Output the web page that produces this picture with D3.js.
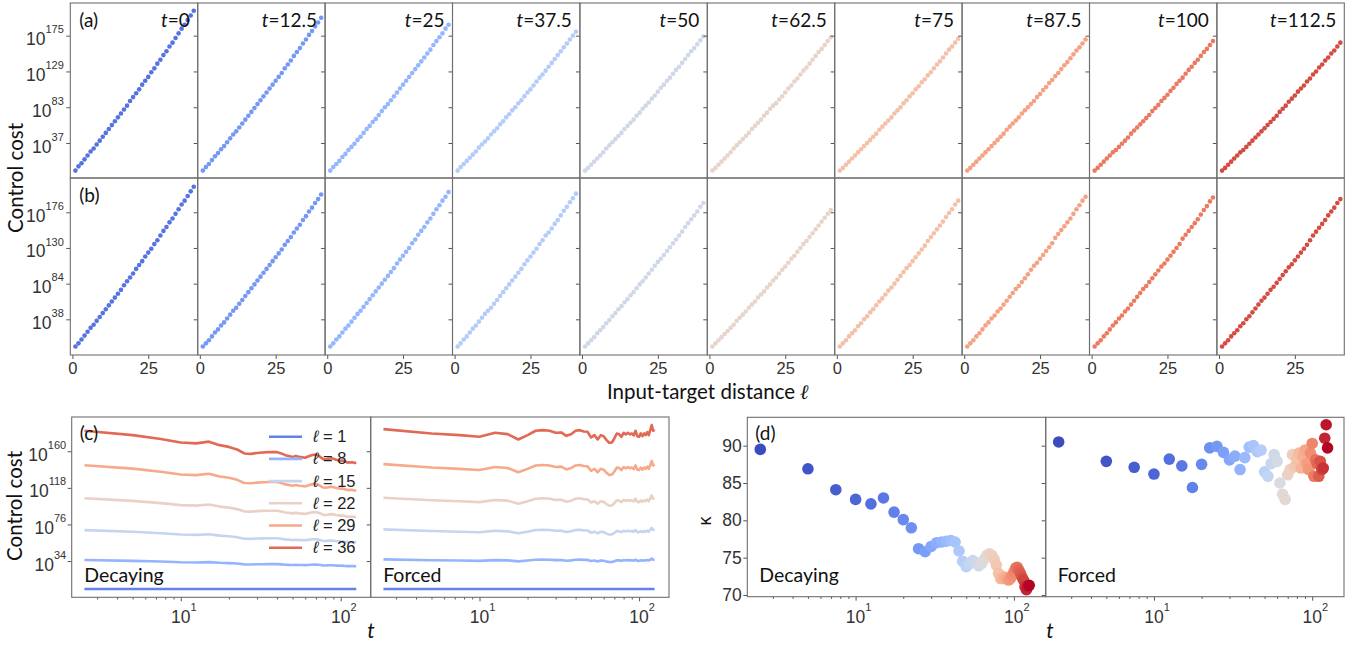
<!DOCTYPE html>
<html>
<head>
<meta charset="utf-8">
<script src="https://cdn.jsdelivr.net/npm/d3@7"></script>
<style>
  body { margin: 0; background: #fff; }
  svg { display: block; }
  .sans { font-family: "Liberation Sans", Arial, sans-serif; }
  .cal { font-family: Lato, "Open Sans", sans-serif; }
</style>
</head>
<body>
<svg id="fig" width="1364" height="646"></svg>
<script>

// ---- top grid: cost vs input-target distance at snapshot times ----
var distances = [1,2,3,4,5,6,7,8,9,10,11,12,13,14,15,16,17,18,19,20,21,22,23,24,25,26,27,28,29,30,31,32,33,34,35,36,37,38,39,40];
var snapLabels = ['0','12.5','25','37.5','50','62.5','75','87.5','100','112.5'];
var rowATicks = [37, 83, 129, 175];
var rowBTicks = [38, 84, 130, 176];
var distTicks = [0, 25];

// log10 of control cost, one list per snapshot (row a, decaying)
var decayingCost = [
  [1.5,7,11,16,21,26,30,35,40,45,50,55,60,65,70,75,80,85,91,96,101,106,112,117,122,128,133,139,144,150,155,161,166,172,178,184,189,195,201,207],
  [1.5,6,10,15,20,24,29,33,38,43,48,52,57,62,67,72,77,82,87,92,97,102,107,112,117,122,127,133,138,143,149,154,159,165,170,176,181,187,192,198],
  [1.5,6,10,14,19,23,28,32,36,41,45,50,55,59,64,68,73,78,83,87,92,97,102,107,112,117,122,127,132,137,142,147,152,157,163,168,173,178,184,189],
  [1.5,6,10,14,18,22,26,31,35,39,43,48,52,56,61,65,70,74,79,83,88,92,97,102,106,111,116,121,125,130,135,140,145,150,155,160,165,170,175,180],
  [1.5,5,9,13,17,21,25,30,34,38,42,46,50,55,59,63,67,72,76,81,85,89,94,98,103,108,112,117,121,126,131,135,140,145,150,155,159,164,169,174],
  [1.5,5,9,13,17,21,25,30,34,38,42,46,50,55,59,63,67,72,76,81,85,88,93,97,102,107,111,116,120,125,130,134,139,144,149,154,158,163,168,173],
  [1.5,5,9,13,17,21,25,29,33,37,41,45,49,54,58,62,66,70,75,79,83,88,92,97,101,106,110,115,119,124,128,133,138,142,147,152,157,161,166,171],
  [1.5,5,9,13,17,21,25,29,33,37,41,45,49,54,58,62,66,70,75,79,83,87,91,96,100,105,109,114,118,123,127,132,137,141,146,151,156,160,165,170],
  [1.5,5,9,13,17,21,25,28,32,36,40,44,49,53,57,61,65,69,73,78,82,86,91,95,99,104,108,113,117,121,126,131,135,140,144,149,154,158,163,168],
  [1.5,5,9,13,17,21,25,28,32,36,40,44,48,52,56,60,64,68,72,77,81,85,90,94,98,103,107,111,116,120,125,129,134,138,143,147,152,156,161,166]
];

// log10 of control cost, one list per snapshot (row b, forced)
var forcedCost = [
  [3,7,12,17,22,27,31,36,41,46,51,56,61,66,71,76,82,87,92,97,103,108,113,119,124,129,135,140,146,152,157,163,168,174,180,186,191,197,203,209],
  [3,7,11,16,21,25,30,34,39,44,49,53,58,63,68,73,78,83,88,93,98,103,108,113,118,123,128,134,139,144,150,155,160,166,171,177,182,188,193,199],
  [3,7,12,16,21,26,30,35,40,45,49,54,59,64,69,74,79,84,89,94,99,104,110,115,120,125,130,136,141,147,152,157,163,168,174,180,185,191,196,202],
  [3,7,12,16,21,26,30,35,40,45,49,53,58,63,68,73,78,83,88,93,98,103,109,114,119,124,129,135,140,146,150,155,161,166,172,178,183,189,194,200],
  [3,7,11,15,20,24,28,33,37,42,46,51,55,60,64,69,73,78,83,87,92,97,102,107,112,116,121,126,131,136,141,146,151,157,162,167,172,177,183,188],
  [3,7,11,15,19,23,27,31,36,40,44,48,53,57,61,66,70,74,79,83,88,92,97,102,106,111,116,120,125,130,135,139,144,149,154,159,164,169,174,179],
  [3,7,11,16,20,24,29,33,38,42,47,51,56,61,65,70,75,79,84,89,94,99,104,108,113,118,123,128,133,139,144,149,154,159,164,170,175,180,186,191],
  [3,7,11,16,20,25,30,34,39,43,48,52,57,62,67,72,77,81,86,91,96,102,107,111,116,121,126,131,136,143,148,153,158,163,168,174,180,185,191,196],
  [3,7,11,16,20,25,30,34,39,43,48,52,57,62,67,72,77,81,86,91,96,101,106,110,115,120,125,130,135,142,147,152,157,162,167,173,179,184,190,195],
  [3,7,11,16,20,24,29,33,38,42,47,52,57,62,66,71,76,80,85,90,95,100,105,109,114,119,124,129,134,140,146,151,156,161,166,172,177,182,188,193]
];

// ---- panel c: cost over time for a few distances ----
var times = [2.5,5,7.5,10,12.5,15,17.5,20,22.5,25,27.5,30,32.5,35,37.5,40,42.5,45,47.5,50,
             52.5,55,57.5,60,62.5,65,67.5,70,72.5,75,77.5,80,82.5,85,87.5,90,92.5,95,97.5,100,
             102.5,105,107.5,110,112.5,115,117.5,120,122.5,125];
var lineDistances = [1, 8, 15, 22, 29, 36];
var costTicks = [34, 76, 118, 160];

var decayingLines = [
  [2,2,2,2,2,2,2,2,2,2,2,2,2,2,2,2,2,2,2,2,2,2,2,2,2,2,2,2,2,2,2,2,2,2,2,2,2,2,2,2,2,2,2,2,2,2,2,2,2,2],
  [35.2,34.2,33.4,32.6,32.4,32.8,32.0,31.6,31.1,30.2,30.1,30.3,30.4,30.5,30.5,30.5,30.2,29.8,29.6,29.5,29.6,29.5,29.4,29.3,29.5,29.7,29.9,29.9,29.7,29.4,29.0,28.9,29.0,29.1,29.1,29.1,28.9,28.8,28.7,28.6,28.7,28.5,28.4,28.2,28.3,28.2,28.3,28.2,28.1,28.2],
  [69.5,67.6,65.9,64.4,64.0,64.8,63.2,62.5,61.4,59.6,59.5,59.8,60.0,60.2,60.2,60.2,59.6,58.9,58.5,58.2,58.5,58.2,58.0,57.8,58.3,58.7,59.1,59.1,58.7,58.0,57.2,57.0,57.2,57.4,57.5,57.4,57.0,56.8,56.6,56.4,56.6,56.2,56.1,55.7,55.9,55.7,55.9,55.7,55.5,55.7],
  [106,103.1,100.5,98.2,97.6,98.8,96.5,95.3,93.6,90.9,90.7,91.3,91.6,91.8,91.8,91.8,90.9,89.8,89.3,88.7,89.3,88.7,88.4,88.1,88.9,89.6,90.1,90.1,89.6,88.4,87.2,86.9,87.2,87.6,87.8,87.6,86.9,86.6,86.4,86.1,86.4,85.8,85.5,84.9,85.2,84.9,85.2,84.9,84.6,84.9],
  [144,140.1,136.5,133.3,132.6,134.2,131,129.5,127.2,123.6,123.3,124,124.4,124.7,124.7,124.7,123.6,122,121.2,120.5,121.2,120.5,120.1,119.7,120.8,121.7,122.4,122.4,121.7,120.1,118.5,118.1,118.5,118.9,119.2,118.9,118.1,117.6,117.4,116.9,117.4,116.5,116.2,115.3,115.8,115.3,115.8,115.3,114.9,115.3],
  [183.5,178.5,174,170,169,171,167,165,162,157.5,157,158,158.5,159,159,159,157.5,155.5,154.5,153.5,154.5,153.5,153,152.5,154,155,156,156,155,153,151,150.5,151,151.5,152,151.5,150.5,150,149.5,149,149.5,148.5,148,147,147.5,147,147.5,147,146.5,147]
];

var forcedLines = [
  [1.9,1.9,1.9,1.9,1.9,1.9,1.9,1.9,1.9,1.9,1.9,1.9,1.9,1.9,1.9,1.9,1.9,1.9,1.9,1.9,1.9,1.9,1.9,1.9,1.9,1.9,1.9,1.9,1.9,1.9,1.9,1.9,1.9,1.9,1.9,1.9,1.9,1.9,1.9,1.9,1.9,1.9,1.9,1.9,1.9,1.9,1.9,1.9,1.9,1.9],
  [35.9,34.9,34.6,34.2,35.1,34.8,33.6,34.6,35.5,35.7,35.5,35.1,35.2,34.4,34.8,35.5,35.7,35.4,35.3,34.0,34.6,33.6,34.6,34.3,33.5,32.8,32.9,33.8,34.9,34.8,34.2,35.1,34.7,35.1,34.8,34.9,34.5,35.5,34.3,34.2,34.9,34.3,34.9,34.6,35.2,34.6,35.7,36.8,35.5,35.8],
  [70.3,68.4,67.7,67.0,68.7,68.1,65.8,67.7,69.6,69.9,69.6,68.7,68.9,67.3,68.1,69.6,69.9,69.2,69.1,66.6,67.7,65.8,67.7,67.2,65.5,64.3,64.5,66.2,68.4,68.1,67.0,68.7,68.0,68.7,68.1,68.4,67.6,69.6,67.2,67.0,68.4,67.2,68.4,67.7,69.0,67.7,69.9,72.1,69.6,70.2],
  [106.6,103.7,102.7,101.6,104.1,103.3,99.8,102.7,105.5,106.0,105.5,104.1,104.5,102.1,103.3,105.5,106.0,105.0,104.8,101.1,102.7,99.8,102.7,101.9,99.4,97.5,97.8,100.4,103.7,103.3,101.6,104.1,103.1,104.1,103.2,103.7,102.4,105.5,101.9,101.6,103.7,101.9,103.7,102.7,104.6,102.7,106.0,109.3,105.5,106.4],
  [145.2,141.3,139.8,138.4,141.9,140.7,135.9,139.8,143.7,144.3,143.7,141.9,142.3,139.1,140.7,143.7,144.3,143.0,142.7,137.6,139.8,135.9,139.8,138.8,135.3,132.9,133.1,136.8,141.3,140.7,138.4,141.9,140.4,141.9,140.6,141.3,139.5,143.7,138.8,138.4,141.3,138.8,141.3,139.8,142.4,139.8,144.3,148.8,143.7,144.9],
  [185.4,180.4,178.5,176.6,181.2,179.6,173.5,178.5,183.5,184.2,183.5,181.2,181.6,177.7,179.6,183.5,184.2,182.7,182.3,175.8,178.5,173.5,178.5,177.3,172.8,169.7,170.1,174.7,180.4,179.6,176.6,181.2,179.2,181.2,179.4,180.4,178.1,183.5,177.3,176.6,180.4,177.3,180.4,178.5,181.9,178.5,184.2,190,183.5,185]
];

// ---- panel d: kappa over time ----
var kappaTicks = [70, 75, 80, 85, 90];
var kappaDecaying = [89.5,86.9,84.1,82.8,82.2,83.0,81.1,80.1,79.0,76.2,75.8,76.5,77.0,77.1,77.2,77.3,77.1,75.9,74.5,73.8,
                     74.2,74.6,74.3,73.9,74.2,74.8,75.3,75.5,75.3,74.8,74.0,72.9,72.2,72.2,72.4,72.2,72.0,72.2,72.6,73.1,
                     73.6,73.7,73.3,72.9,72.4,72.0,71.1,70.7,71.2,71.3];
var kappaForced = [90.5,87.9,87.1,86.2,88.2,87.3,84.4,87.5,89.7,89.9,89.1,88.1,88.6,86.8,88.4,89.8,90.0,89.2,89.4,86.5,
                   85.9,87.6,88.8,87.9,85.0,83.5,82.8,86.1,86.8,88.8,87.2,88.1,89.0,87.0,88.5,89.4,87.6,86.8,89.0,90.3,
                   85.9,88.1,87.6,85.9,87.9,86.8,87.0,91.0,92.8,89.7];
var logMajor = [10, 100];
var logMinor = [3,4,5,6,7,8,9,20,30,40,50,60,70,80,90];

var svg = d3.select('#fig');

var coolwarm = d3.scaleLinear()
  .domain([0, 0.1, 0.2, 0.3, 0.4, 0.5, 0.6, 0.7, 0.8, 0.9, 1])
  .range(['#3b4cc0','#5977e3','#7b9ff9','#9ebeff','#c0d4f5','#dddcdc','#f2cbb7','#f7ac8e','#ee8468','#d65244','#b40426'])
  .interpolate(d3.interpolateRgb);

var frameCol = '#6f6f6f', tickCol = '#555', labCol = '#333';

// "10" with a raised exponent
function powLabel(text, exp, size) {
  text.append('tspan').text('10');
  text.append('tspan').attr('dy', -0.68 * size).style('font-size', Math.round(size * 0.63) + 'px').text(exp);
}

function yPowLabels(g, scale, ticks, xRight) {
  ticks.forEach(function(v){
    var t = g.append('text').attr('class', 'sans')
      .attr('x', xRight).attr('y', scale(v) + 9.5)
      .attr('text-anchor', 'end').attr('fill', labCol).style('font-size', '17.5px');
    powLabel(t, v, 17.5);
  });
}

function styleAxis(a) {
  a.select('.domain').remove();
  a.selectAll('line').attr('stroke', tickCol);
}

// ================= panels (a) and (b) =================
var gridLeft = 70.3, colW = 127.4;
var gridRows = [
  { cost: decayingCost, top: 3, bottom: 178, dom: [-8, 217], ticks: rowATicks, tag: '(a)', tagY: 27 },
  { cost: forcedCost, top: 178, bottom: 355, dom: [-8, 220.2], ticks: rowBTicks, tag: '(b)', tagY: 202 }
];

gridRows.forEach(function(row, r){
  var y = d3.scaleLinear().domain(row.dom).range([row.bottom, row.top]);
  snapLabels.forEach(function(lab, i){
    var left = gridLeft + i * colW;
    var x = d3.scaleLinear().domain([-0.7, 41.3]).range([left, left + colW]);
    var g = svg.append('g');

    var ya = g.append('g').attr('transform', 'translate(' + left + ',0)')
      .call(d3.axisLeft(y).tickValues(row.ticks).tickSize(4).tickFormat(''));
    styleAxis(ya);

    if (r == 1) {
      var xa = g.append('g').attr('transform', 'translate(0,' + row.bottom + ')')
        .call(d3.axisBottom(x).tickValues(distTicks).tickSize(4).tickPadding(3));
      styleAxis(xa);
      xa.selectAll('text').attr('class', 'sans').attr('fill', labCol).style('font-size', '16.5px');
      xa.attr('font-family', null).attr('font-size', null);
    }

    g.selectAll('circle').data(row.cost[i]).enter().append('circle')
      .attr('cx', function(d, j){ return x(distances[j]); })
      .attr('cy', function(d){ return y(d); })
      .attr('r', 2.3)
      .attr('fill', coolwarm((i + 1) / 11));

    g.append('rect').attr('x', left).attr('y', row.top)
      .attr('width', colW).attr('height', row.bottom - row.top)
      .attr('fill', 'none').attr('stroke', frameCol).attr('stroke-width', 1.1);

    if (i == 0) {
      yPowLabels(g, y, row.ticks, left - 6.5);
      g.append('text').attr('class', 'cal').attr('x', left + 9).attr('y', row.tagY)
        .style('font-size', '19px').attr('fill', '#111').text(row.tag);
    }
    if (r == 0) {
      var tt = g.append('text').attr('class', 'cal').attr('x', left + colW - 8).attr('y', 27)
        .attr('text-anchor', 'end').style('font-size', '19px').attr('fill', '#111');
      tt.append('tspan').style('font-style', 'italic').text('t');
      tt.append('tspan').text('=' + lab);
    }
  });
});

svg.append('text').attr('class', 'cal')
  .attr('transform', 'translate(23,178) rotate(-90)')
  .attr('text-anchor', 'middle').style('font-size', '20.5px').attr('fill', '#111')
  .text('Control cost');

var xl = svg.append('text').attr('class', 'cal').attr('x', 708).attr('y', 399)
  .attr('text-anchor', 'middle').style('font-size', '20.5px').attr('fill', '#111');
xl.append('tspan').text('Input-target distance ');
xl.append('tspan').style('font-family', '"DejaVu Serif", serif').style('font-style', 'italic')
  .style('font-weight', 'bold').text('ℓ');

// ================= shared helper for the log-time panels =================
function logTimeAxes(g, x, bottom) {
  var major = g.append('g').attr('transform', 'translate(0,' + bottom + ')')
    .call(d3.axisBottom(x).tickValues(logMajor).tickSize(4).tickFormat(''));
  styleAxis(major);
  var minor = g.append('g').attr('transform', 'translate(0,' + bottom + ')')
    .call(d3.axisBottom(x).tickValues(logMinor).tickSize(2.2).tickFormat(''));
  styleAxis(minor);
  logMajor.forEach(function(v, k){
    var t = g.append('text').attr('class', 'sans')
      .attr('x', x(v) + 3).attr('y', bottom + 26)
      .attr('text-anchor', 'middle').attr('fill', labCol).style('font-size', '17.5px');
    powLabel(t, k + 1, 17.5);
  });
}

// ================= panel (c) =================
var cTop = 417, cBottom = 597.3;
var cy = d3.scaleLinear().domain([-7.6, 199.3]).range([cBottom, cTop]);
var cPanels = [
  { lines: decayingLines, x0: 71.7, x1: 370.7, name: 'Decaying' },
  { lines: forcedLines, x0: 370.7, x1: 669, name: 'Forced' }
];

cPanels.forEach(function(p, pi){
  var x = d3.scaleLog().domain([2.08, 154]).range([p.x0, p.x1]);
  var g = svg.append('g');

  var ya = g.append('g').attr('transform', 'translate(' + p.x0 + ',0)')
    .call(d3.axisLeft(cy).tickValues(costTicks).tickSize(4).tickFormat(''));
  styleAxis(ya);
  logTimeAxes(g, x, cBottom);

  var line = d3.line()
    .x(function(d, j){ return x(times[j]); })
    .y(function(d){ return cy(d); });

  g.selectAll('path.cost').data(p.lines).enter().append('path')
    .attr('class', 'cost')
    .attr('d', line)
    .attr('fill', 'none')
    .attr('stroke', function(d, k){ return coolwarm((lineDistances[k] + 5) / 48); })
    .attr('stroke-width', 2.6)
    .attr('stroke-linejoin', 'round');

  g.append('rect').attr('x', p.x0).attr('y', cTop)
    .attr('width', p.x1 - p.x0).attr('height', cBottom - cTop)
    .attr('fill', 'none').attr('stroke', frameCol).attr('stroke-width', 1.1);

  g.append('text').attr('class', 'cal').attr('x', p.x0 + 12.5).attr('y', 582)
    .style('font-size', '19.5px').attr('fill', '#111').text(p.name);

  if (pi == 0) {
    yPowLabels(g, cy, costTicks, p.x0 - 5.5);
    g.append('text').attr('class', 'cal').attr('x', p.x0 + 8).attr('y', 440)
      .style('font-size', '19px').attr('fill', '#111').text('(c)');

    var leg = g.append('g');
    lineDistances.forEach(function(l, k){
      var ly = 436.7 + k * 22.2;
      leg.append('line').attr('x1', 269).attr('x2', 302).attr('y1', ly).attr('y2', ly)
        .attr('stroke', coolwarm((l + 5) / 48)).attr('stroke-width', 2.6);
      var t = leg.append('text').attr('class', 'sans').attr('x', 313).attr('y', ly + 5.5)
        .style('font-size', '16.5px').attr('fill', '#222');
      t.append('tspan').style('font-style', 'italic').text('ℓ');
      t.append('tspan').text(' = ' + l);
    });
  }
});

svg.append('text').attr('class', 'cal')
  .attr('transform', 'translate(22,506) rotate(-90)')
  .attr('text-anchor', 'middle').style('font-size', '20.5px').attr('fill', '#111')
  .text('Control cost');
svg.append('text').attr('class', 'cal').attr('x', 371).attr('y', 638)
  .attr('text-anchor', 'middle').style('font-size', '21px').style('font-style', 'italic')
  .attr('fill', '#111').text('t');

// ================= panel (d) =================
var dTop = 417.3, dBottom = 596.7;
var ky = d3.scaleLinear().domain([69.77, 93.8]).range([dBottom, dTop]);
var dPanels = [
  { kappa: kappaDecaying, x0: 747.3, x1: 1045.7, name: 'Decaying' },
  { kappa: kappaForced, x0: 1045.7, x1: 1344, name: 'Forced' }
];

dPanels.forEach(function(p, pi){
  var x = d3.scaleLog().domain([2.07, 158.8]).range([p.x0, p.x1]);
  var g = svg.append('g');

  var ya = g.append('g').attr('transform', 'translate(' + p.x0 + ',0)')
    .call(d3.axisLeft(ky).tickValues(kappaTicks).tickSize(4).tickPadding(1.5)
      .tickFormat(pi == 0 ? d3.format('d') : ''));
  styleAxis(ya);
  ya.attr('font-family', null).attr('font-size', null);
  ya.selectAll('text').attr('class', 'sans').attr('fill', labCol).style('font-size', '17.5px');
  logTimeAxes(g, x, dBottom);

  g.selectAll('circle').data(p.kappa).enter().append('circle')
    .attr('cx', function(d, j){ return x(times[j]); })
    .attr('cy', function(d){ return ky(d); })
    .attr('r', 5.8)
    .attr('fill', function(d, j){ return coolwarm(j / (times.length - 1)); });

  g.append('rect').attr('x', p.x0).attr('y', dTop)
    .attr('width', p.x1 - p.x0).attr('height', dBottom - dTop)
    .attr('fill', 'none').attr('stroke', frameCol).attr('stroke-width', 1.1);

  g.append('text').attr('class', 'cal').attr('x', p.x0 + 12).attr('y', 582)
    .style('font-size', '19.5px').attr('fill', '#111').text(p.name);

  if (pi == 0) {
    g.append('text').attr('class', 'cal').attr('x', p.x0 + 8).attr('y', 440)
      .style('font-size', '19px').attr('fill', '#111').text('(d)');
  }
});

svg.append('text').attr('class', 'sans')
  .attr('transform', 'translate(711,521) rotate(-90)')
  .attr('text-anchor', 'middle').style('font-size', '18px').attr('fill', '#111')
  .text('κ');
svg.append('text').attr('class', 'cal').attr('x', 1050).attr('y', 638)
  .attr('text-anchor', 'middle').style('font-size', '21px').style('font-style', 'italic')
  .attr('fill', '#111').text('t');

</script>
</body>
</html>
